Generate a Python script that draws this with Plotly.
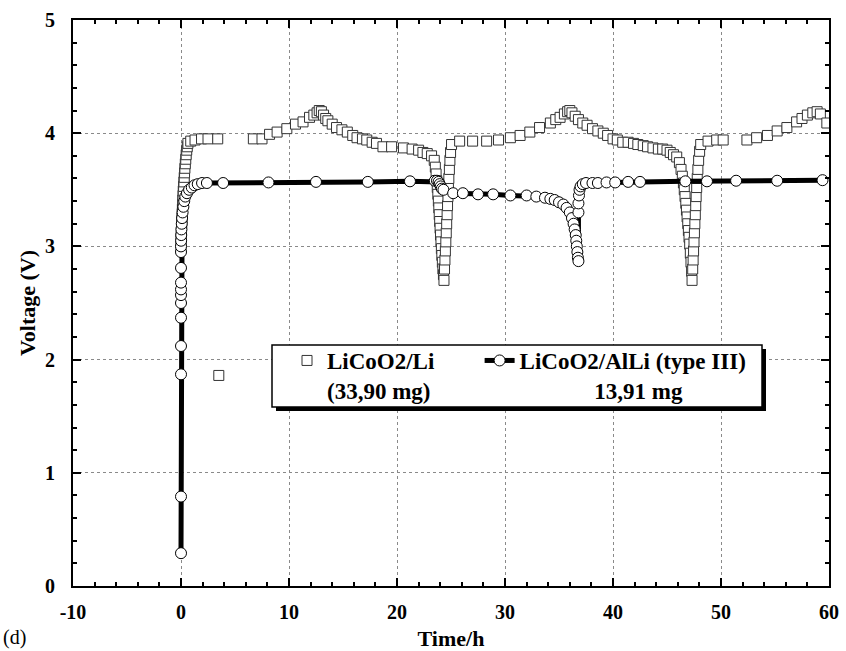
import plotly.graph_objects as go

# ---------------- data ----------------
# LiCoO2/Li (33,90 mg) -- open squares
li_outlier_t = [3.5]
li_outlier_v = [1.86]

li_rise_t = [0.00, 0.01, 0.02, 0.03, 0.05, 0.07, 0.09, 0.11, 0.13, 0.15, 0.17, 0.19,
             0.21, 0.24, 0.27, 0.30, 0.33, 0.36, 0.40, 0.44, 0.48, 0.53, 0.58, 0.64,
             0.9, 1.3, 1.9, 2.5, 3.4]
li_rise_v = [3.00, 3.05, 3.09, 3.13, 3.17, 3.21, 3.25, 3.29, 3.33, 3.37, 3.41, 3.45,
             3.49, 3.53, 3.57, 3.61, 3.65, 3.69, 3.73, 3.77, 3.81, 3.85, 3.88, 3.91,
             3.93, 3.94, 3.95, 3.95, 3.95]

li_cyc1_t = [6.7, 7.5, 8.2, 8.9, 9.8, 10.6, 11.3, 11.9, 12.3, 12.6, 12.8, 13.0, 13.2,
             13.4, 13.6, 14.0, 14.4, 14.9, 15.4, 15.9, 16.3, 16.8, 17.2, 17.7, 18.1,
             18.7, 19.5, 20.6, 21.4, 22.0, 22.4, 22.8, 23.2]
li_cyc1_v = [3.95, 3.95, 3.99, 4.01, 4.04, 4.08, 4.10, 4.14, 4.16, 4.18, 4.20, 4.19, 4.16,
             4.13, 4.11, 4.08, 4.05, 4.03, 4.01, 3.98, 3.96, 3.95, 3.94, 3.92, 3.91,
             3.88, 3.88, 3.87, 3.86, 3.85, 3.83, 3.82, 3.80]

li_dip1_t = [23.45, 23.55, 23.62, 23.68, 23.73, 23.78, 23.83, 23.87, 23.91, 23.95, 23.99,
             24.03, 24.07, 24.11, 24.15, 24.20, 24.25, 24.30, 24.35,
             24.40, 24.44, 24.48, 24.52, 24.56, 24.60, 24.64, 24.68, 24.72, 24.76,
             24.80, 24.85, 24.90, 24.96, 25.05]
li_dip1_v = [3.76, 3.70, 3.64, 3.58, 3.52, 3.46, 3.40, 3.34, 3.28, 3.22, 3.16,
             3.10, 3.04, 2.98, 2.92, 2.86, 2.80, 2.75, 2.70,
             2.80, 2.88, 2.96, 3.04, 3.12, 3.20, 3.28, 3.36, 3.44, 3.52,
             3.60, 3.68, 3.76, 3.83, 3.90]

li_cyc2_t = [25.8, 27.0, 28.3, 29.4, 30.5, 31.4, 32.3, 33.2, 34.2, 34.7, 35.1, 35.5, 35.8,
             36.0, 36.2, 36.5, 36.8, 37.2, 37.6, 38.1, 38.6, 39.1, 39.5, 40.0, 40.4,
             40.9, 41.4, 41.9, 42.3, 42.8, 43.2, 43.7, 44.2, 44.6, 45.0, 45.3, 45.6, 45.9]
li_cyc2_v = [3.93, 3.93, 3.93, 3.94, 3.96, 3.98, 4.01, 4.05, 4.09, 4.12, 4.14, 4.17, 4.19,
             4.20, 4.18, 4.15, 4.12, 4.09, 4.07, 4.04, 4.02, 4.00, 3.98, 3.95, 3.94,
             3.92, 3.92, 3.91, 3.90, 3.89, 3.88, 3.87, 3.86, 3.86, 3.85, 3.83, 3.81, 3.79]

li_dip2_t = [46.15, 46.30, 46.42, 46.52, 46.60, 46.67, 46.74, 46.80, 46.86, 46.92, 46.98,
             47.04, 47.10, 47.16, 47.22, 47.28, 47.32,
             47.38, 47.42, 47.46, 47.50, 47.54, 47.58, 47.62, 47.66, 47.70, 47.75,
             47.80, 47.86, 47.93, 48.02, 48.12]
li_dip2_v = [3.74, 3.68, 3.62, 3.56, 3.50, 3.44, 3.38, 3.32, 3.26, 3.20, 3.14,
             3.08, 3.02, 2.94, 2.86, 2.78, 2.70,
             2.80, 2.88, 2.96, 3.04, 3.12, 3.20, 3.28, 3.36, 3.44, 3.52,
             3.60, 3.68, 3.76, 3.84, 3.90]

li_cyc3_t = [48.8, 49.6, 50.2, 52.4, 53.3, 54.3, 55.2, 56.1, 57.0, 57.5, 58.0, 58.5, 58.9, 59.2, 59.8]
li_cyc3_v = [3.93, 3.94, 3.94, 3.94, 3.96, 3.98, 4.02, 4.05, 4.10, 4.13, 4.16, 4.18, 4.19, 4.17, 4.09]

# LiCoO2/AlLi (type III) 13,91 mg -- thick line with open circles
al_start_t = [0.0, 0.0, 0.0, 0.0, 0.0, 0.0, 0.0, 0.0, 0.0, 0.0, 0.0]
al_start_v = [0.29, 0.79, 1.87, 2.12, 2.37, 2.50, 2.57, 2.62, 2.68, 2.81, 2.95]

al_bend_t = [0.0, 0.01, 0.02, 0.04, 0.07, 0.10, 0.15, 0.22, 0.30, 0.40, 0.55, 0.75,
             1.00, 1.25, 1.55, 1.95, 2.4]
al_bend_v = [3.00, 3.05, 3.10, 3.15, 3.20, 3.25, 3.30, 3.35, 3.40, 3.44, 3.47, 3.50,
             3.52, 3.54, 3.55, 3.56, 3.56]

al_plat1_t = [3.9, 8.1, 12.5, 17.3, 21.2, 23.5, 23.7, 23.85, 23.95, 24.05, 24.15, 24.3]
al_plat1_v = [3.56, 3.565, 3.57, 3.57, 3.575, 3.58, 3.58, 3.57, 3.55, 3.53, 3.51, 3.50]

al_dis_t = [25.2, 26.1, 27.5, 28.9, 30.5, 32.0, 32.9, 33.7, 34.2, 34.6, 35.0, 35.4, 35.7,
            36.0, 36.2, 36.35, 36.45, 36.55, 36.6, 36.65, 36.7, 36.75, 36.8]
al_dis_v = [3.47, 3.47, 3.46, 3.46, 3.45, 3.45, 3.44, 3.43, 3.42, 3.41, 3.39, 3.37, 3.34,
            3.30, 3.25, 3.20, 3.15, 3.10, 3.05, 3.00, 2.95, 2.90, 2.87]

al_rec_t = [36.8, 36.8, 36.85, 36.9, 37.0, 37.2, 37.5, 38.1, 38.6, 39.4, 40.2, 41.4, 42.5,
            46.7, 48.7, 51.4, 55.2, 59.4]
al_rec_v = [3.30, 3.38, 3.45, 3.50, 3.53, 3.55, 3.56, 3.56, 3.56, 3.565, 3.565, 3.57, 3.57,
            3.575, 3.575, 3.58, 3.58, 3.585]

x_ticks = [-10, 0, 10, 20, 30, 40, 50, 60]
x_ticktext = ["-10", "0", "10", "20", "30", "40", "50", "60"]
y_ticks = [0, 1, 2, 3, 4, 5]
y_ticktext = ["0", "1", "2", "3", "4", "5"]

NB = "\u00a0"
li_name = "LiCoO2/Li" + NB * 7 + "<br>(33,90 mg)"
al_name = "LiCoO2/AlLi (type III)<br>" + NB * 13 + "13,91 mg"

# ---------------- figure ----------------
li_t = li_outlier_t + li_rise_t + li_cyc1_t + li_dip1_t + li_cyc2_t + li_dip2_t + li_cyc3_t
li_v = li_outlier_v + li_rise_v + li_cyc1_v + li_dip1_v + li_cyc2_v + li_dip2_v + li_cyc3_v
al_t = al_start_t + al_bend_t + al_plat1_t + al_dis_t + al_rec_t
al_v = al_start_v + al_bend_v + al_plat1_v + al_dis_v + al_rec_v

SERIF = "Liberation Serif, Times New Roman, serif"

W, H = 846, 651
ML, MR, MT, MB = 73, 17, 20, 65
PW, PH = W - ML - MR, H - MT - MB


def px_x(px):
    return (px - ML) / PW


def px_y(py):
    return (H - MB - py) / PH


fig = go.Figure()
fig.add_trace(go.Scatter(
    x=li_t, y=li_v, mode="markers", name=li_name,
    marker=dict(symbol="square", size=10, color="white",
                line=dict(color="#333333", width=1)),
))
fig.add_trace(go.Scatter(
    x=al_t, y=al_v, mode="lines+markers", name=al_name,
    line=dict(color="black", width=5),
    marker=dict(symbol="circle", size=11, color="white",
                line=dict(color="black", width=1)),
))

axis_common = dict(
    showline=True, linewidth=2, linecolor="black", mirror="allticks",
    ticks="inside", ticklen=8, tickwidth=1.5, tickcolor="black",
    showgrid=True, gridcolor="#8a8a8a", gridwidth=1, griddash="dot",
    zeroline=False, automargin=False,
    tickfont=dict(family=SERIF, size=20, color="black", weight="bold"),
)

fig.update_xaxes(
    range=[-10, 60], tickvals=x_ticks, ticktext=x_ticktext,
    minor=dict(dtick=2, ticks="inside", ticklen=4, tickcolor="black", showgrid=False),
    title=dict(text="Time/h", font=dict(family=SERIF, size=22, color="black", weight="bold"),
               standoff=13),
    ticklabelstandoff=7,
    **axis_common,
)
fig.update_yaxes(
    range=[0, 5], tickvals=y_ticks, ticktext=y_ticktext,
    minor=dict(dtick=0.2, ticks="inside", ticklen=4, tickcolor="black", showgrid=False),
    title=dict(text="Voltage (V)", font=dict(family=SERIF, size=22, color="black", weight="bold"),
               standoff=3),
    ticklabelstandoff=12,
    **axis_common,
)

# legend frame with drop shadow (drawn as shapes, legend text sits on top)
box_l, box_t, box_r, box_b = 272, 345, 762, 407
shadow = 4
shapes = [
    dict(type="rect", xref="paper", yref="paper", layer="above",
         x0=px_x(box_l + shadow), x1=px_x(box_r + shadow),
         y0=px_y(box_b + shadow), y1=px_y(box_t + shadow),
         fillcolor="black", line=dict(width=0)),
    dict(type="rect", xref="paper", yref="paper", layer="above",
         x0=px_x(box_l), x1=px_x(box_r), y0=px_y(box_b), y1=px_y(box_t),
         fillcolor="white", line=dict(color="black", width=1.5)),
]

fig.update_layout(
    width=W, height=H, autosize=False,
    margin=dict(l=ML, r=MR, t=MT, b=MB, pad=0),
    paper_bgcolor="white", plot_bgcolor="white",
    showlegend=True,
    shapes=shapes,
    legend=dict(
        orientation="h", x=px_x(287), y=px_y(339), xanchor="left", yanchor="top",
        bgcolor="rgba(0,0,0,0)", borderwidth=0,
        font=dict(family=SERIF, size=23, color="black", weight="bold"),
        valign="top", itemwidth=30,
    ),
    annotations=[dict(
        text="(d)", xref="paper", yref="paper", x=px_x(1), y=px_y(637),
        xanchor="left", yanchor="middle", showarrow=False,
        font=dict(family=SERIF, size=20, color="black"),
    )],
)

fig.write_html("out.html")
